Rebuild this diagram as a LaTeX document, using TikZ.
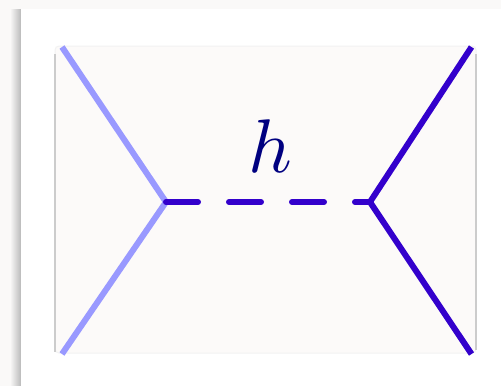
\documentclass[tikz,border=0pt]{standalone}
\usetikzlibrary{positioning}
\definecolor{pagebg}{HTML}{FAF9F8}
\definecolor{panelbg}{HTML}{FCFAF9}
\definecolor{lightline}{HTML}{9999FF}
\definecolor{darkline}{HTML}{3300CC}
\definecolor{labelcol}{HTML}{000080}
\tikzstyle{panel} = [fill=panelbg, draw=black!5, line width=0.75pt, rounded corners=3pt]
\tikzstyle{panelside} = [draw=black!20, line width=1.5pt]
\tikzstyle{lightleg} = [draw=lightline, line width=4.5pt]
\tikzstyle{darkleg} = [draw=darkline, line width=4.5pt]
\tikzstyle{higgs} = [draw=darkline, line width=4.5pt, line cap=round, dash pattern=on 24pt off 23.25pt]
\tikzstyle{label} = [text=labelcol, scale=5.7, inner sep=0pt]
\begin{document}
\begin{tikzpicture}[x=0.75pt, y=-0.75pt]
\useasboundingbox (0,0) rectangle (501,386);
% Backdrop
\fill [pagebg] (0,0) rectangle (501,386);
\shade [left color=pagebg, right color=black!25] (10,9) rectangle (20,386);
\fill [white] (21,9) rectangle (501,386);
\draw [black!25, line width=1pt] (20.5,9) -- (20.5,386);

% Panel
\draw [panel] (55,46) rectangle (476,353);
\draw [panelside] (55,54) -- (55,352);
\draw [panelside] (476,54) -- (476,350);

% Vertices and ends
\coordinate (vleft) at (166,202);
\coordinate (vright) at (370,202);
\coordinate (intop) at (62,47);
\coordinate (inbot) at (62,354);
\coordinate (outtop) at (471.5,47);
\coordinate (outbot) at (471.5,354);
\node (hlabel) [label] at (270,146) {$h$};

% Draw legs
\draw [lightleg] (intop) -- (vleft);
\draw [lightleg] (inbot) -- (vleft);
\draw [darkleg] (vright) -- (outtop);
\draw [darkleg] (vright) -- (outbot);

% Mediator
\draw [higgs] (vleft) -- (vright);

\end{tikzpicture}
\end{document}
